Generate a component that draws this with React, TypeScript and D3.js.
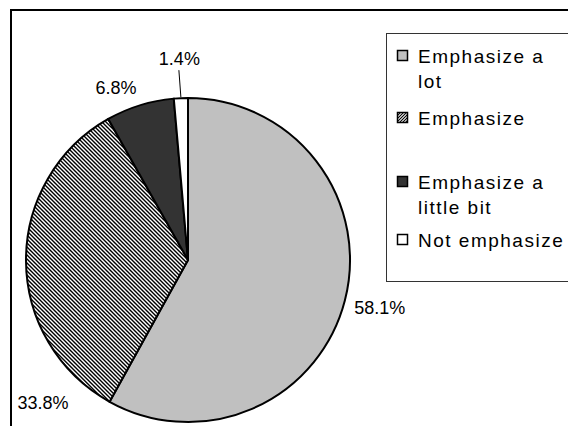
import React from "react";
import * as d3 from "d3";

// Survey answers and their shares (percent)
const categories = ["Emphasize a lot", "Emphasize", "Emphasize a little bit", "Not emphasize"];
const values = [58.1, 33.8, 6.8, 1.4];
// Legend text, wrapped the way it is printed
const legendLines = [["Emphasize a", "lot"], ["Emphasize"], ["Emphasize a", "little bit"], ["Not emphasize"]];

const W = 568;
const H = 426;
const cx = 188;
const cy = 260;
const R = 162;

// Label nudges from the outer edge of each slice (dx, dy)
const labelNudge: [number, number][] = [
  [35, 7],
  [17, 142],
  [-24, -18],
  [-1.5, -40],
];

const fills = ["#c0c0c0", "url(#hatch)", "#333333", "#ffffff"];
const swatchFills = ["#c0c0c0", "url(#hatchSwatch)", "#333333", "#ffffff"];

// Legend rows: baseline of first text line for each entry
const legendBaselines = [63, 125, 189, 247];
const legendLineStep = 25;

export default function App() {
  const pie = d3
    .pie<number>()
    .sort(null)
    .value((d) => d)
    .startAngle(0)
    .endAngle(2 * Math.PI);
  const arcs = pie(values);
  const arc = d3.arc<d3.PieArcDatum<number>>().innerRadius(0).outerRadius(R);

  const outerPoint = (a: d3.PieArcDatum<number>, r: number) => {
    const m = (a.startAngle + a.endAngle) / 2;
    return [cx + r * Math.sin(m), cy - r * Math.cos(m)];
  };

  return (
    <svg
      width={W}
      height={H}
      style={{ position: "fixed", left: 0, top: 0, background: "#fff" }}
      fontFamily="'Liberation Sans', Arial, sans-serif"
    >
      <defs>
        <pattern id="hatch" patternUnits="userSpaceOnUse" width={4} height={4}>
          <rect width={4} height={4} fill="#fff" />
          <path d="M-1,-1 L5,5 M-1,3 L1,5 M3,-1 L5,1" stroke="#000" strokeWidth={1.4} />
        </pattern>
        <pattern id="hatchSwatch" patternUnits="userSpaceOnUse" width={3} height={3}>
          <rect width={3} height={3} fill="#fff" />
          <path d="M-1,4 L4,-1 M-1,1 L1,-1 M2,4 L4,2" stroke="#000" strokeWidth={1.1} />
        </pattern>
      </defs>
      <rect x={0} y={0} width={W} height={H} fill="#fff" />
      {/* chart area frame */}
      <rect x={11} y={10} width={W + 20} height={H + 20} fill="none" stroke="#000" strokeWidth={2} />

      <g transform={`translate(${cx},${cy})`}>
        {arcs.map((a, i) => (
          <path key={categories[i]} d={arc(a) || ""} fill={fills[i]} stroke="#000" strokeWidth={2} strokeLinejoin="round" />
        ))}
      </g>

      {arcs.map((a, i) => {
        const [ox, oy] = outerPoint(a, R);
        const lx = ox + labelNudge[i][0];
        const ly = oy + labelNudge[i][1];
        const needsLeader = i === 3;
        return (
          <g key={"lab" + i}>
            {needsLeader && (
              <line x1={ox} y1={oy - 1} x2={lx - 0.5} y2={ly + 12} stroke="#000" strokeWidth={1} />
            )}
            <text x={lx} y={ly + 6.5} textAnchor="middle" fontSize={18} fill="#000">
              {`${values[i].toFixed(1)}%`}
            </text>
          </g>
        );
      })}

      {/* legend */}
      <rect x={386.5} y={33.5} width={W} height={248} fill="#fff" stroke="#333" strokeWidth={1} />
      {categories.map((c, i) => {
        const b = legendBaselines[i];
        return (
          <g key={"leg" + c}>
            <rect x={397.5} y={b - 12.5} width={10} height={10} fill={swatchFills[i]} stroke="#000" strokeWidth={1.5} />
            {legendLines[i].map((t, j) => (
              <text key={t} x={418} y={b + j * legendLineStep} fontSize={19} letterSpacing={1.5} fill="#000">
                {t}
              </text>
            ))}
          </g>
        );
      })}
    </svg>
  );
}
